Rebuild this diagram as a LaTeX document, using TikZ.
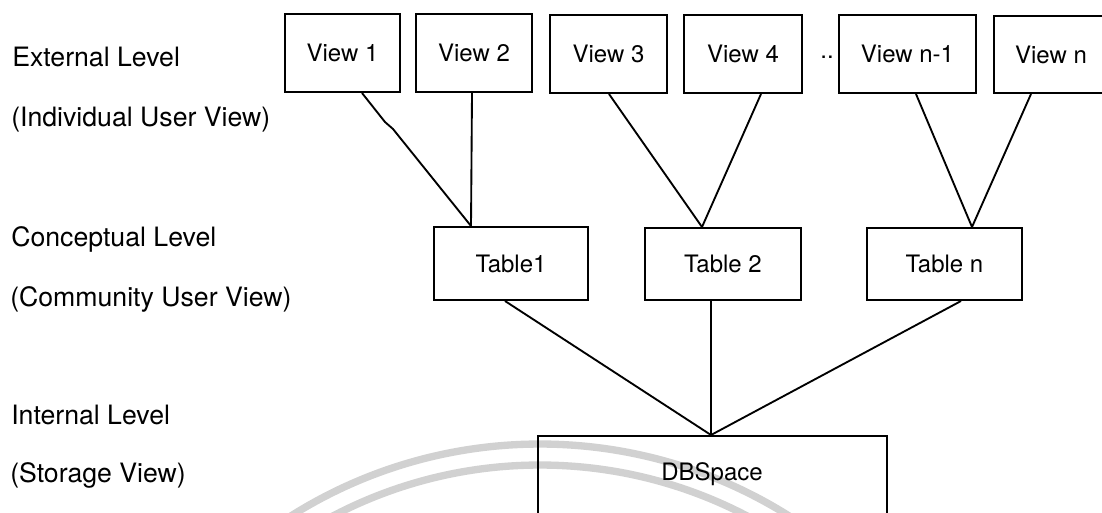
\documentclass[tikz,border=0pt]{standalone}
\usepackage{fontspec}
\setmainfont{TeX Gyre Heros}
\usetikzlibrary{calc}
\begin{document}
\begin{tikzpicture}[x=0.75pt,y=-0.75pt,
  box/.style={draw=black, line width=1.5pt, inner sep=0pt,
    font=\fontsize{18}{20}\selectfont, text height=12.9pt, text depth=0pt},
  boxtext/.style={inner sep=0pt, font=\fontsize{18}{20}\selectfont,
    text height=12.9pt, text depth=0pt},
  level/.style={anchor=west, inner sep=0pt,
    font=\fontsize{20}{24}\selectfont, text height=14.4pt, text depth=0pt},
  link/.style={draw=black, line width=1.4pt, line join=round},
  wm/.style={draw=black!18, line width=5.5pt}]
\clip (0,0) rectangle (1102,512);
\fill[white] (0,0) rectangle (1102,512);

% faint seal behind the storage box
\draw[wm] (540,911) ++(236:467) arc[start angle=236, end angle=306, radius=467];
\draw[wm] (540,911) ++(234:446) arc[start angle=234, end angle=308, radius=446];

% level captions
\node[level] (ext)  at (12,57)  {External Level};
\node[level] (extv) at (11,117) {(Individual User View)};
\node[level] (con)  at (11,237) {Conceptual Level};
\node[level] (conv) at (10,297) {(Community User View)};
\node[level] (int)  at (11,415) {Internal Level};
\node[level] (intv) at (10,473) {(Storage View)};

% external views
\node[box, minimum width=115*0.75pt, minimum height=78*0.75pt] (v1)  at (342.5,53) {View 1};
\node[box, minimum width=116*0.75pt, minimum height=78*0.75pt] (v2)  at (474,53)   {View 2};
\node[box, minimum width=117*0.75pt, minimum height=78*0.75pt] (v3)  at (608.5,54) {View 3};
\node[box, minimum width=118*0.75pt, minimum height=78*0.75pt] (v4)  at (743,54)   {View 4};
\node[boxtext, anchor=base] (dots) at (827,58) {..};
\node[box, minimum width=137*0.75pt, minimum height=78*0.75pt] (vn1) at (907.5,54) {View n-1};
\node[box, minimum width=114*0.75pt, minimum height=77*0.75pt] (vn)  at (1051,54.5) {View n};

% conceptual tables
\node[box, minimum width=154*0.75pt, minimum height=73*0.75pt] (t1) at (511,263.5)   {Table1};
\node[box, minimum width=156*0.75pt, minimum height=72*0.75pt] (t2) at (723,264)     {Table 2};
\node[box, minimum width=155*0.75pt, minimum height=72*0.75pt] (tn) at (944.5,264)   {Table n};

% storage
\node[box, anchor=north, minimum width=349*0.75pt, minimum height=130*0.75pt] (db) at (712.5,435) {};
\node[boxtext] (dbl) at (712,471.5) {DBSpace};

% views to tables
\coordinate (k1) at (385,122);
\coordinate (k2) at (393,129);
\draw[link] ($(v1.south west)+(78,0)$) -- (k1) -- (k2) -- ($(t1.north west)+(38,0)$);
\draw[link] ($(v2.south west)+(57,0)$) -- ($(t1.north west)+(38,0)$);
\draw[link] ($(v3.south west)+(60,0)$) -- ($(t2.north west)+(58,0)$);
\draw[link] ($(v4.south west)+(78,0)$) -- ($(t2.north west)+(58,0)$);
\draw[link] ($(vn1.south west)+(78,0)$) -- ($(tn.north west)+(106,0)$);
\draw[link] ($(vn.south west)+(38,0)$) -- ($(tn.north west)+(106,0)$);

% tables to storage
\draw[link] ($(t1.south west)+(72,0)$) -- ($(db.north west)+(174,0)$);
\draw[link] ($(t2.south west)+(67,0)$) -- ($(db.north west)+(174,0)$);
\draw[link] ($(tn.south west)+(95,0)$) -- ($(db.north west)+(174,0)$);
\end{tikzpicture}
\end{document}
